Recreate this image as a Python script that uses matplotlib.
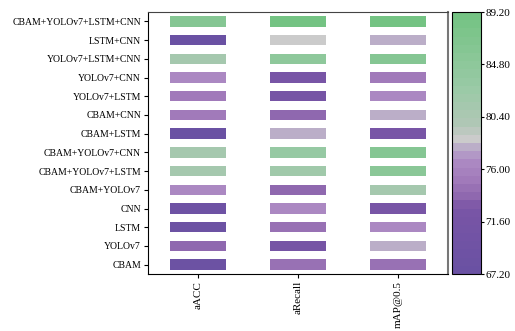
import numpy as np
import matplotlib
matplotlib.use("Agg")
import matplotlib.pyplot as plt
from matplotlib.colors import LinearSegmentedColormap, Normalize
from matplotlib.cm import ScalarMappable

plt.rcParams['font.family'] = ['Liberation Serif', 'DejaVu Serif']

models = ['CBAM+YOLOv7+LSTM+CNN', 'LSTM+CNN', 'YOLOv7+LSTM+CNN', 'YOLOv7+CNN',
          'YOLOv7+LSTM', 'CBAM+CNN', 'CBAM+LSTM', 'CBAM+YOLOv7+CNN',
          'CBAM+YOLOv7+LSTM', 'CBAM+YOLOv7', 'CNN', 'LSTM', 'YOLOv7', 'CBAM']
metrics = ['aACC', 'aRecall', 'mAP@0.5']

aacc = [86.3, 67.2, 81.6, 76.2, 74.8, 74.8, 67.6, 81.2, 81.0, 76.2, 68.6, 68.2, 73.4, 68.4]
arecall = [89.2, 78.6, 84.6, 72.2, 71.8, 73.6, 78.1, 83.4, 82.2, 73.6, 76.2, 74.4, 71.8, 74.4]
map50 = [89.2, 78.1, 86.0, 74.8, 76.2, 77.7, 72.4, 86.0, 85.6, 81.0, 72.4, 76.2, 78.1, 74.4]

cb_ticks = [67.20, 71.60, 76.00, 80.40, 84.80, 89.20]

# purple -> grey -> green
cmap = LinearSegmentedColormap.from_list('pgg', [
    (0.00, '#6a51a3'),
    (0.25, '#7a55a6'),
    (0.27, '#8a62ab'),
    (0.36, '#a27bbb'),
    (0.42, '#ab88c2'),
    (0.47, '#b6a2c9'),
    (0.49, '#bdb4c8'),
    (0.51, '#cbcbcb'),
    (0.53, '#cbcbcb'),
    (0.56, '#b2c6b7'),
    (0.70, '#9ccaa8'),
    (1.00, '#74c383'),
], N=32)
norm = Normalize(vmin=67.2, vmax=89.2)

data = np.array([aacc, arecall, map50])
n = len(models)
ypos = np.arange(n)[::-1]

fig = plt.figure(figsize=(5.15, 3.31), dpi=100)
ax = fig.add_axes([0.2874, 0.1722, 0.5825, 0.7915])

w = 0.56
for j in range(3):
    ax.barh(ypos, w, left=j - w / 2, height=w, color=cmap(norm(data[j])), linewidth=0)

ax.set_xlim(-0.5, 2.5)
ax.set_ylim(-0.5, n - 0.5)
ax.set_xticks(range(3))
ax.set_xticklabels(metrics, rotation=90, fontsize=8)
ax.set_yticks(ypos)
ax.set_yticklabels(models, fontsize=7)
ax.tick_params(length=3, width=0.8, pad=2)
for s in ax.spines.values():
    s.set_linewidth(0.8)
ax.spines['top'].set_color('#444444')
ax.spines['right'].set_color('#777777')
ax.spines['right'].set_linewidth(1.5)

cax = fig.add_axes([0.8777, 0.1722, 0.0563, 0.7915])
cb = fig.colorbar(ScalarMappable(norm=norm, cmap=cmap), cax=cax)
cb.set_ticks(cb_ticks)
cb.set_ticklabels(['%.2f' % t for t in cb_ticks])
cb.ax.tick_params(labelsize=8, length=2, width=0.8, pad=1)
cb.outline.set_linewidth(0.8)

fig.savefig('out.png', dpi=100)
